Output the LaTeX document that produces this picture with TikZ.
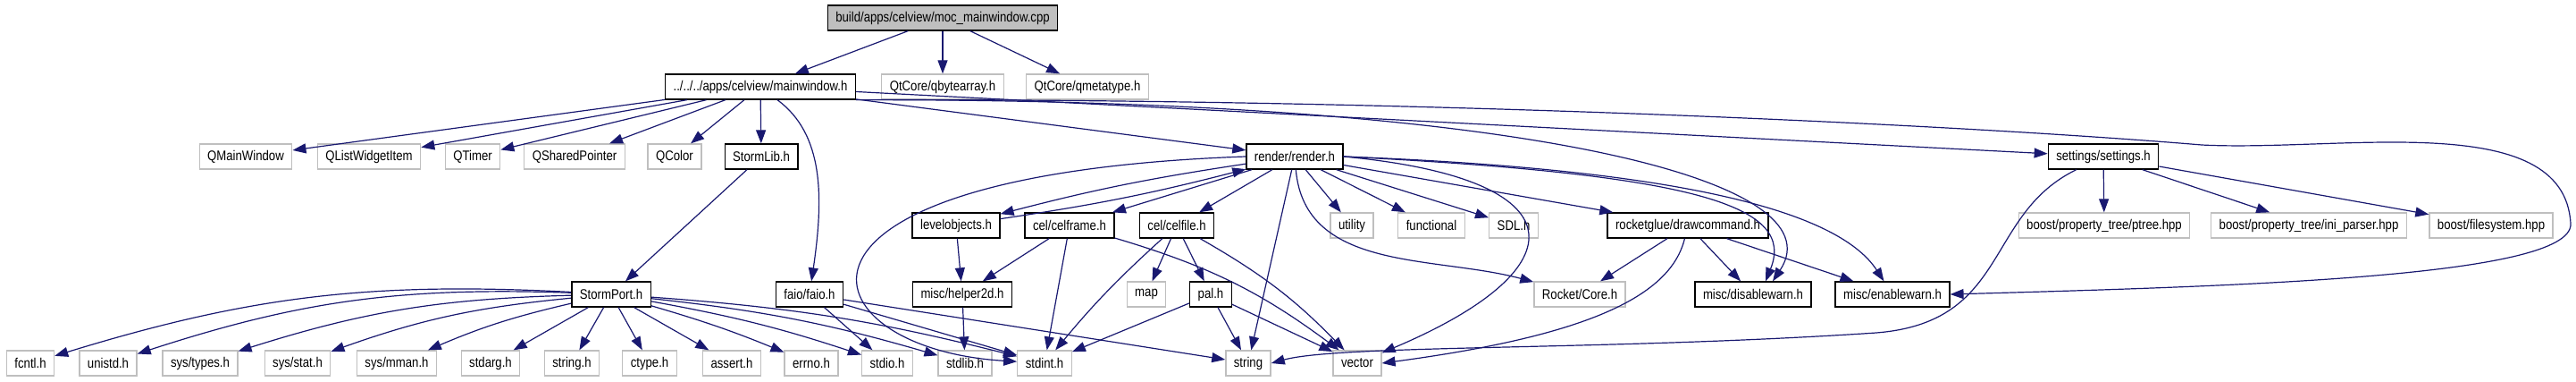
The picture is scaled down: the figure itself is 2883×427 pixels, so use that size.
\documentclass[tikz,border=0pt]{standalone}
\usepackage{fontspec}
\setmainfont{Liberation Sans}[FakeStretch=0.85]
\usepackage{xcolor}
\usepackage{tikz}
\usetikzlibrary{arrows.meta,positioning}

\definecolor{edgeblue}{HTML}{191970}
\definecolor{boxgray}{HTML}{BFBFBF}

\begin{document}
\begin{tikzpicture}[x=1pt, y=-1pt, font=\fontsize{15.5}{17}\selectfont]
    % Stili
    \tikzstyle{header}=[rectangle, draw=black, fill=boxgray, line width=1.3pt, minimum height=28pt, inner xsep=9pt, inner ysep=0pt]
    \tikzstyle{file}=[rectangle, draw=black, fill=white, line width=1.3pt, minimum height=28pt, inner xsep=9pt, inner ysep=0pt]
    \tikzstyle{extern}=[rectangle, draw=boxgray, fill=white, line width=1.3pt, minimum height=28pt, inner xsep=9pt, inner ysep=0pt]
    \tikzstyle{arrow}=[-{Triangle[length=15pt,width=11pt]}, draw=edgeblue, fill=none, line width=1.2pt]

    \useasboundingbox (0,0) rectangle (2883,427);

    % Nodi
    \node (moc) [header] at (1055,20) {build/apps/celview/moc\_mainwindow.cpp};

    \node (mainwin) [file] at (851,97) {../../../apps/celview/mainwindow.h};
    \node (qbytearray) [extern] at (1055,97) {QtCore/qbytearray.h};
    \node (qmetatype) [extern] at (1217,97) {QtCore/qmetatype.h};

    \node (qmainwindow) [extern] at (275,175) {QMainWindow};
    \node (qlistwidgetitem) [extern] at (413,175) {QListWidgetItem};
    \node (qtimer) [extern] at (529,175) {QTimer};
    \node (qsharedpointer) [extern] at (643,175) {QSharedPointer};
    \node (qcolor) [extern] at (755,175) {QColor};
    \node (stormlib) [file] at (852,175) {StormLib.h};
    \node (render) [file] at (1449,175) {render/render.h};
    \node (settings) [file] at (2354,175) {settings/settings.h};

    \node (levelobjects) [file] at (1070,252) {levelobjects.h};
    \node (celframe) [file] at (1197,252) {cel/celframe.h};
    \node (celfile) [file] at (1317,252) {cel/celfile.h};
    \node (utility) [extern] at (1513,252) {utility};
    \node (functional) [extern] at (1602,252) {functional};
    \node (sdl) [extern] at (1694,252) {SDL.h};
    \node (drawcommand) [file] at (1889,252) {rocketglue/drawcommand.h};
    \node (ptree) [extern] at (2355,252) {boost/property\_tree/ptree.hpp};
    \node (iniparser) [extern] at (2584,252) {boost/property\_tree/ini\_parser.hpp};
    \node (filesystem) [extern] at (2788,252) {boost/filesystem.hpp};

    \node (stormport) [file] at (684,329) {StormPort.h};
    \node (faio) [file] at (906,329) {faio/faio.h};
    \node (helper2d) [file] at (1077,329) {misc/helper2d.h};
    \node (map) [extern] at (1283,329) {map};
    \node (pal) [file] at (1355,329) {pal.h};
    \node (rocketcore) [extern] at (1768,329) {Rocket/Core.h};
    \node (disablewarn) [file] at (1962,329) {misc/disablewarn.h};
    \node (enablewarn) [file] at (2118,329) {misc/enablewarn.h};

    \node (fcntl) [extern] at (34,406) {fcntl.h};
    \node (unistd) [extern] at (121,406) {unistd.h};
    \node (systypes) [extern] at (224,406) {sys/types.h};
    \node (sysstat) [extern] at (333,406) {sys/stat.h};
    \node (sysmman) [extern] at (444,406) {sys/mman.h};
    \node (stdarg) [extern] at (549,406) {stdarg.h};
    \node (stringh) [extern] at (640,406) {string.h};
    \node (ctype) [extern] at (727,406) {ctype.h};
    \node (assert) [extern] at (819,406) {assert.h};
    \node (errno) [extern] at (908,406) {errno.h};
    \node (stdio) [extern] at (993,406) {stdio.h};
    \node (stdlib) [extern] at (1080,406) {stdlib.h};
    \node (stdint) [extern] at (1169,406) {stdint.h};
    \node (string) [extern] at (1397,406) {string};
    \node (vector) [extern] at (1519,406) {vector};

    % Collegamenti
    \draw [arrow] (moc) -- (mainwin);
    \draw [arrow] (moc) -- (qbytearray);
    \draw [arrow] (moc) -- (qmetatype);

    \draw [arrow] (mainwin) -- (qmainwindow);
    \draw [arrow] (mainwin) -- (qlistwidgetitem);
    \draw [arrow] (mainwin) -- (qtimer);
    \draw [arrow] (mainwin) -- (qsharedpointer);
    \draw [arrow] (mainwin) -- (qcolor);
    \draw [arrow] (mainwin) -- (stormlib);
    \draw [arrow] (mainwin) -- (render);
    \draw [arrow] (mainwin) -- (settings);
    \draw [arrow] ([xshift=19pt]mainwin.south) .. controls (922,150) and (922,220) .. (faio);
    \draw [arrow] (mainwin.south east) .. controls (1700,110) and (2060,200) .. ([xshift=22pt]disablewarn.north);
    \draw [arrow] (mainwin.south east) .. controls (1600,110) and (2200,140) .. (2464,162)
        .. controls (2620,170) and (2870,120) .. (2877,250)
        .. controls (2880,310) and (2500,320) .. (enablewarn.east);

    \draw [arrow] (stormlib) -- (stormport);

    \draw [arrow] (stormport) to[bend right=10] (fcntl);
    \draw [arrow] (stormport) to[bend right=10] (unistd);
    \draw [arrow] (stormport) to[bend right=8] (systypes);
    \draw [arrow] (stormport) to[bend right=7] (sysstat);
    \draw [arrow] (stormport) to[bend right=5] (sysmman);
    \draw [arrow] (stormport) -- (stdarg);
    \draw [arrow] (stormport) -- (stringh);
    \draw [arrow] (stormport) -- (ctype);
    \draw [arrow] (stormport) -- (assert);
    \draw [arrow] (stormport) to[bend left=3] (errno);
    \draw [arrow] (stormport) to[bend left=4] (stdio);
    \draw [arrow] (stormport) to[bend left=5] (stdlib);
    \draw [arrow] (stormport) to[bend left=5] (stdint);

    \draw [arrow] (faio) -- (stdio);
    \draw [arrow] (faio) -- (stdint);
    \draw [arrow] (faio) -- (string);
    \draw [arrow] (helper2d) -- (stdlib);

    \draw [arrow] (levelobjects) -- (helper2d);
    \draw [arrow] (levelobjects) to[bend right=3] (render);
    \draw [arrow] (render) to[bend right=3] (levelobjects);
    \draw [arrow] (render) -- (celframe);
    \draw [arrow] (render) -- (celfile);
    \draw [arrow] (render) -- (utility);
    \draw [arrow] (render) -- (functional);
    \draw [arrow] (render) -- (sdl);
    \draw [arrow] (render) -- (drawcommand);
    \draw [arrow] (render) -- (string);
    \draw [arrow] (render) to[out=-85, in=165] (rocketcore);
    \draw [arrow] (render.east) .. controls (1770,200) and (1770,300) .. (vector);
    \draw [arrow] (render.west) .. controls (830,195) and (900,390) .. (stdint);
    \draw [arrow] (render.east) .. controls (1900,195) and (2010,230) .. ([xshift=14pt]disablewarn.north);
    \draw [arrow] (render.east) .. controls (1900,190) and (2060,240) .. (enablewarn);

    \draw [arrow] (celframe) -- (helper2d);
    \draw [arrow] (celframe) -- (stdint);
    \draw [arrow] (celframe) to[bend left=10] (vector);
    \draw [arrow] (celfile) to[bend right=4] (stdint);
    \draw [arrow] (celfile) -- (map);
    \draw [arrow] (celfile) -- (pal);
    \draw [arrow] (celfile) to[bend left=8] (vector);
    \draw [arrow] (pal) -- (stdint);
    \draw [arrow] (pal) -- (string);
    \draw [arrow] (pal) -- (vector);

    \draw [arrow] (drawcommand) -- (rocketcore);
    \draw [arrow] (drawcommand) -- (disablewarn);
    \draw [arrow] (drawcommand) -- (enablewarn);
    \draw [arrow] (drawcommand) .. controls (1870,330) and (1780,375) .. (vector.east);

    \draw [arrow] (settings) -- (ptree);
    \draw [arrow] (settings) -- (iniparser);
    \draw [arrow] (settings) -- (filesystem);
    \draw [arrow] (settings) .. controls (2220,240) and (2250,360) .. (2100,372)
        .. controls (1800,392) and (1500,385) .. (string.east);

\end{tikzpicture}
\end{document}
